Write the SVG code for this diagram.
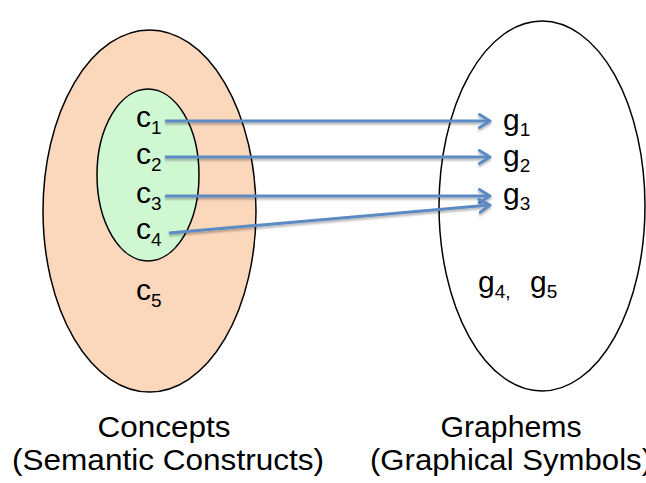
<svg xmlns="http://www.w3.org/2000/svg" width="646" height="483" viewBox="0 0 646 483">
<style>
text{font-family:"Liberation Sans",Arial,sans-serif;fill:#000}
.lbl{font-size:30px}
.sub{font-size:19px}
.cap{font-size:29px;text-anchor:middle}
.set{stroke:#000;stroke-width:1.5}
.conn{fill:none;stroke:#5b8ac3;stroke-width:3;marker-end:url(#arr);filter:url(#sh)}
</style>
<defs>
<marker id="arr" markerWidth="16" markerHeight="16" refX="12" refY="8" orient="auto" markerUnits="userSpaceOnUse">
<path d="M1.5,1.5 L12,8 L1.5,14.5" fill="none" stroke="#5b8ac3" stroke-width="3" stroke-linecap="round" stroke-linejoin="round"/>
</marker>
<filter id="sh" filterUnits="userSpaceOnUse" x="0" y="0" width="646" height="483">
<feDropShadow dx="0" dy="2" stdDeviation="1" flood-color="#000" flood-opacity="0.3"/>
</filter>
</defs>
<g id="concepts">
<ellipse cx="149.5" cy="211" rx="106.5" ry="181" fill="#fbd7bc" class="set"/>
<text class="cap" x="164" y="437" textLength="133" lengthAdjust="spacingAndGlyphs">Concepts</text>
<text class="cap" x="168" y="470" textLength="312" lengthAdjust="spacingAndGlyphs">(Semantic Constructs)</text>
</g>
<g id="subset">
<ellipse cx="148" cy="175" rx="51" ry="86" fill="#cff8d2" class="set"/>
</g>
<g id="graphemes">
<ellipse cx="542" cy="206" rx="103" ry="185" fill="#fff" class="set"/>
<text class="cap" x="511" y="437" textLength="141" lengthAdjust="spacingAndGlyphs">Graphems</text>
<text class="cap" x="511" y="470" textLength="282" lengthAdjust="spacingAndGlyphs">(Graphical Symbols)</text>
</g>
<g id="c1"><text class="lbl" x="136" y="127">c<tspan class="sub" dy="7">1</tspan></text></g>
<g id="c2"><text class="lbl" x="136" y="164">c<tspan class="sub" dy="7">2</tspan></text></g>
<g id="c3"><text class="lbl" x="136" y="203">c<tspan class="sub" dy="7">3</tspan></text></g>
<g id="c4"><text class="lbl" x="136" y="239">c<tspan class="sub" dy="7">4</tspan></text></g>
<g id="c5"><text class="lbl" x="136" y="300">c<tspan class="sub" dy="7">5</tspan></text></g>
<g id="g1"><text class="lbl" x="503" y="130">g<tspan class="sub" dy="6">1</tspan></text></g>
<g id="g2"><text class="lbl" x="503" y="166">g<tspan class="sub" dy="6">2</tspan></text></g>
<g id="g3"><text class="lbl" x="503" y="204">g<tspan class="sub" dy="6">3</tspan></text></g>
<g id="g4g5"><text class="lbl" x="478" y="292">g<tspan class="sub" dy="6">4,</tspan><tspan x="530" dy="-6">g</tspan><tspan class="sub" dy="6">5</tspan></text></g>
<g id="connectors">
<path class="conn" d="M165,121 L490,121"/>
<path class="conn" d="M165,157 L490,157"/>
<path class="conn" d="M165,196 L490,196"/>
<path class="conn" d="M169,233 L490,205"/>
</g>
</svg>
